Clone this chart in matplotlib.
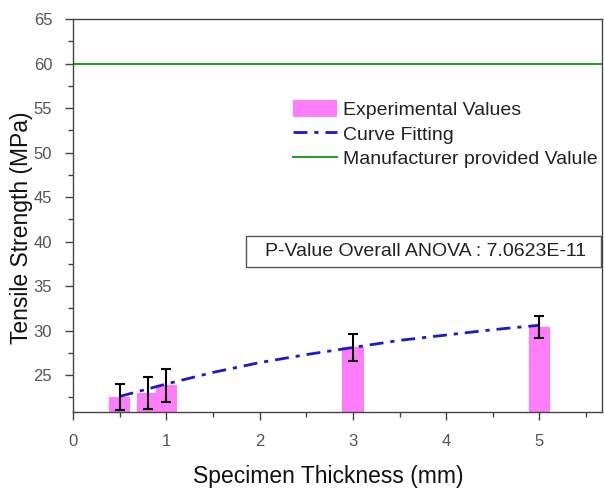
import matplotlib
matplotlib.use("Agg")
import matplotlib.pyplot as plt
from matplotlib.ticker import MultipleLocator
from matplotlib.patches import Patch, Rectangle
from matplotlib.lines import Line2D

plt.rcParams['font.family'] = ['Liberation Sans', 'DejaVu Sans']

# Data
thickness = [0.5, 0.8, 1.0, 3.0, 5.0]
strength = [22.55, 23.0, 23.85, 28.1, 30.43]
err = [1.5, 1.8, 1.85, 1.55, 1.23]

fit_x = [0.5, 1.0, 1.5, 2.0, 2.5, 3.0, 3.5, 4.0, 4.5, 5.0]
fit_y = [22.6, 24.0, 25.3, 26.4, 27.3, 28.1, 28.9, 29.5, 30.1, 30.6]

manufacturer_value = 60

fig = plt.figure(figsize=(6.04, 4.88), dpi=100)
ax = fig.add_axes([0.1209, 0.1557, 0.8758, 0.8053])

bar_color = '#ff7dfb'
fit_color = '#1a1ad0'
ax.bar(thickness, [s - 20 for s in strength], bottom=20, width=0.23,
       color=bar_color, zorder=1)
ax.errorbar(thickness, strength, yerr=err, fmt='none', ecolor='black',
            elinewidth=1.5, capsize=3.5, capthick=1.5, zorder=3)
ax.plot(fit_x, fit_y, color=fit_color, linestyle=(0, (5, 2.5, 1.5, 2.5)),
        linewidth=2, zorder=2)
ax.axhline(manufacturer_value, color='#2e9a2e', linewidth=1.5, zorder=2)

ax.set_xlim(0, 5.67)
ax.set_ylim(20.85, 65)
ax.xaxis.set_major_locator(MultipleLocator(1))
ax.xaxis.set_minor_locator(MultipleLocator(0.5))
ax.yaxis.set_minor_locator(MultipleLocator(2.5))
ax.set_yticks([25, 30, 35, 40, 45, 50, 55, 60, 65])

ax.tick_params(which='major', direction='out', length=6, width=1,
               colors='#444444', labelsize=12, labelcolor='#555555')
ax.tick_params(which='minor', direction='out', length=3.5, width=1,
               colors='#444444')
ax.tick_params(axis='x', pad=10)
ax.tick_params(axis='y', pad=9)
for sp in ax.spines.values():
    sp.set_color('#444444')
    sp.set_linewidth(1)

ax.set_xlabel('Specimen Thickness (mm)', fontsize=16.5, labelpad=11, color='#111111')
ax.set_ylabel('Tensile Strength (MPa)', fontsize=16.5, labelpad=0.5, color='#111111')
ax.xaxis.label.set_x(0.482)
ax.yaxis.label.set_y(0.468)

handles = [
    Patch(facecolor=bar_color, edgecolor='none'),
    Line2D([], [], color=fit_color, linestyle=(0, (5, 2.5, 1.5, 2.5)), linewidth=2),
    Line2D([], [], color='#2e9a2e', linewidth=1.5),
]
labels = ['Experimental Values', 'Curve Fitting', 'Manufacturer provided Valule']
leg = ax.legend(handles, labels, loc='upper left', bbox_to_anchor=(0.401, 0.815),
                frameon=False, fontsize=14, handlelength=2.25, handleheight=1.0,
                handletextpad=0.35, labelspacing=0.28, borderaxespad=0)
for t in leg.get_texts():
    t.set_color('#222222')

ax.add_patch(Rectangle((0.327, 0.368), 0.671, 0.0789, transform=ax.transAxes,
                       facecolor='white', edgecolor='#555555', linewidth=1,
                       zorder=4))
ax.text(0.666, 0.409, 'P-Value Overall ANOVA : 7.0623E-11', transform=ax.transAxes,
        ha='center', va='center', fontsize=14, color='#222222', zorder=5)

fig.savefig('out.png', dpi=100)
